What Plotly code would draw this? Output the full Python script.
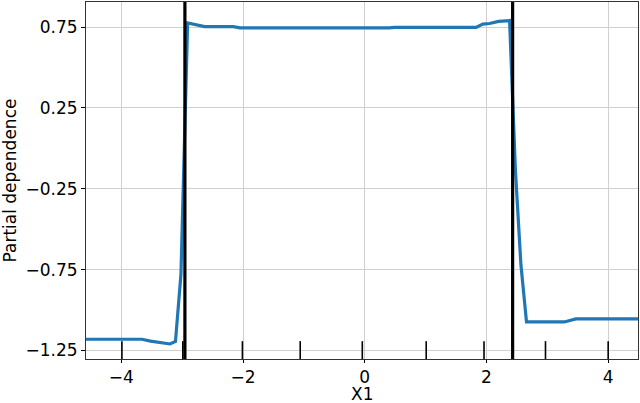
import plotly.graph_objects as go

# partial dependence curve for feature X1
pd_x = [-4.58, -3.66, -3.52, -3.40, -3.20, -3.11, -3.02, -2.91, -2.63, -2.16, -2.05,
        0.40, 0.49, 1.83, 1.94, 2.05, 2.20, 2.38, 2.475, 2.566, 2.658, 3.28, 3.47, 4.49]
pd_y = [-1.181, -1.181, -1.192, -1.200, -1.210, -1.195, -0.78, 0.776, 0.753, 0.753, 0.745,
        0.745, 0.748, 0.748, 0.768, 0.772, 0.785, 0.790, -0.13, -0.72, -1.074, -1.074, -1.055, -1.055]

# deciles of X1 (rug marks at the bottom)
deciles = [-3.99, -2.99, -2.01, -1.06, -0.04, 1.01, 1.96, 2.97, 4.0]

# split thresholds (black vertical lines)
thresholds = [-2.955, 2.43]

y_ticks = [-1.25, -0.75, -0.25, 0.25, 0.75]

fig = go.Figure()
fig.add_trace(go.Scatter(x=pd_x, y=pd_y, mode="lines",
                         line=dict(color="#1f77b4", width=3.2),
                         showlegend=False))

shapes = []
for d in deciles:
    shapes.append(dict(type="line", xref="x", yref="y domain", x0=d, x1=d, y0=0, y1=0.05,
                       line=dict(color="black", width=1.6), layer="above"))
for t in thresholds:
    shapes.append(dict(type="line", xref="x", yref="y domain", x0=t, x1=t, y0=0, y1=1,
                       line=dict(color="black", width=3.2), layer="above"))

# axis titles as annotations so they can sit right at the figure edge
title_font = dict(family="DejaVu Sans", size=17, color="black")
titles = [
    dict(text="X1", xref="paper", yref="paper", x=0.5, y=0, yshift=-35,
         xanchor="center", yanchor="middle", showarrow=False, font=title_font),
    dict(text="Partial dependence", xref="paper", yref="paper", x=0, y=0.5, xshift=-77,
         xanchor="center", yanchor="middle", textangle=-90, showarrow=False, font=title_font),
]

fig.update_layout(
    width=640, height=403,
    margin=dict(l=86, r=2, t=2, b=44, autoexpand=False),
    paper_bgcolor="white", plot_bgcolor="white",
    font=dict(family="DejaVu Sans", size=17, color="black"),
    shapes=shapes,
    annotations=titles,
)
fig.update_xaxes(range=[-4.58, 4.49], dtick=2, tick0=0,
                 showgrid=True, gridcolor="#d0d0d0", gridwidth=1, zeroline=False,
                 showline=True, linecolor="#333333", linewidth=1, mirror=True,
                 ticks="outside", ticklen=3, tickcolor="black")
fig.update_yaxes(range=[-1.303, 0.905], tickvals=y_ticks, tickformat=".2f",
                 showgrid=True, gridcolor="#d0d0d0", gridwidth=1, zeroline=False,
                 showline=True, linecolor="#333333", linewidth=1, mirror=True,
                 ticks="outside", ticklen=4, tickcolor="black")

# page body has a default 8px margin; drop it so the figure sits at the corner
fig.write_html("out.html", config={"displayModeBar": False},
               post_script="document.body.style.margin='0';")
